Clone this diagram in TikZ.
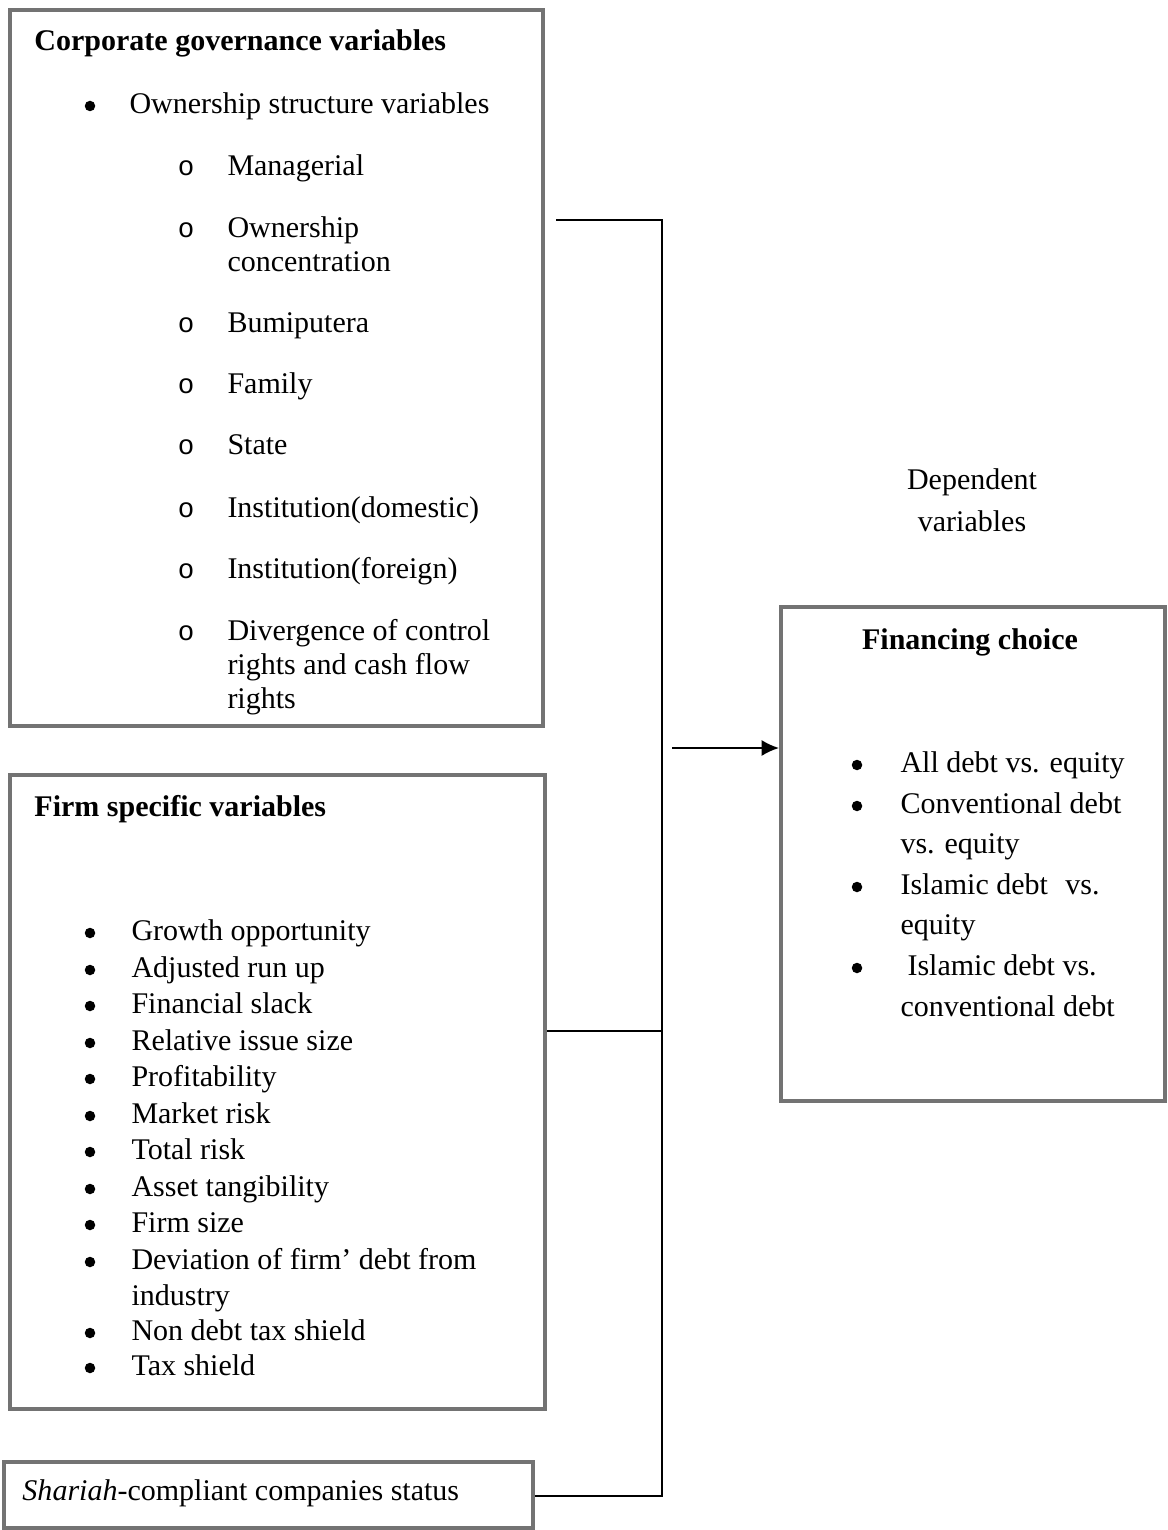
\documentclass[tikz,border=0pt]{standalone}
\usepackage{fontspec}
\setmainfont{Liberation Serif}
\newfontfamily\monofont{Liberation Mono}
\usetikzlibrary{positioning,arrows.meta}
\newcommand{\bodysize}{\fontsize{12}{14.5}\selectfont}
\tikzset{
  box/.style  = {draw=black!55, line width=1.6pt, anchor=north west, inner sep=0pt},
  head/.style = {font=\bodysize\bfseries, anchor=base west, inner sep=0pt},
  txt/.style  = {font=\bodysize, anchor=base west, inner sep=0pt},
  bul/.style  = {circle, fill=black, inner sep=0pt, minimum size=4.2pt},
  ring/.style = {anchor=base, inner sep=0pt, font=\fontsize{11}{11}\selectfont\monofont},
  tedge/.style = {draw, line width=0.8pt},
}

\begin{document}
\begin{tikzpicture}[x=0.4pt,y=-0.4pt]
\useasboundingbox (0,0) rectangle (1167,1530);

% boxes =============================
\node[box, minimum width=213.2pt, minimum height=286.4pt] (cg) at (8,8) {};
\node[box, minimum width=214pt, minimum height=253.6pt] (fs) at (8,773) {};
\node[box, minimum width=211.6pt, minimum height=26.4pt] (sc) at (2,1460) {};
\node[box, minimum width=153.6pt, minimum height=197.6pt] (fc) at (779,605) {};

% corporate governance variables
\node[head] (cghead) at (34,51) {Corporate governance variables};
\node[bul] (cgb) at (90,106) {};
\node[txt] (own) at (129,114) {Ownership structure variables};
\foreach \yy/\tx [count=\i] in {176/Managerial, 238/Ownership, 333/Bumiputera,
    394/Family, 455/State, 517/Institution(domestic), 578/Institution(foreign),
    640/Divergence of control}{
  \node[ring] (o\i) at (186,\yy) {o};
  \node[txt] (s\i) at (227,\yy) {\tx};
}
\node[txt] (s2b) at (227,272) {concentration};
\node[txt] (s8b) at (227,674) {rights and cash flow};
\node[txt] (s8c) at (227,708) {rights};

% firm specific variables
\node[head] (fshead) at (34,816) {Firm specific variables};
\foreach \yy/\tx [count=\i] in {940/Growth opportunity, 977/Adjusted run up,
    1013/Financial slack, 1050/Relative issue size, 1086/Profitability,
    1123/Market risk, 1159/Total risk, 1196/Asset tangibility, 1232/Firm size,
    1269/Deviation of firm’ debt from, 1340/Non debt tax shield, 1375/Tax shield}{
  \node[bul] (fb\i) at (90,\yy-7) {};
  \node[txt] (f\i) at (131,\yy) {\tx};
}
\node[txt] (f10b) at (131,1305) {industry};

% shariah status
\node[txt] (sctxt) at (22,1500) {\textit{Shariah}-compliant companies status};

% dependent variables
\node[txt, anchor=base] (dep1) at (972,490) {Dependent};
\node[txt, anchor=base] (dep2) at (972,531) {variables};
\node[head, anchor=base] (fchead) at (970,649) {Financing choice};
\foreach \yy/\tx [count=\i] in {772/All debt vs. equity, 813/Conventional debt,
    894/Islamic debt\hspace{4pt} vs.}{
  \node[bul] (cb\i) at (857,\yy-7) {};
  \node[txt] (c\i) at (900,\yy) {\tx};
}
\node[bul] (cb4) at (857,968) {};
\node[txt] (c4) at (907,975) {Islamic debt vs.};
\node[txt] (c2b) at (900,853) {vs. equity};
\node[txt] (c3b) at (900,934) {equity};
\node[txt] (c4b) at (900,1016) {conventional debt};

% edges
\coordinate (cgout) at (556,220);
\coordinate (jtop) at (662,220);
\coordinate (jmid) at (662,1031);
\coordinate (jbot) at (662,1496);
\coordinate (astart) at (672,748);
\path[tedge] (cgout) -- (jtop) -- (jbot) -- (sc.east |- jbot);
\path[tedge] (fs.east |- jmid) -- (jmid);
\path[tedge, -{Latex[length=7pt,width=6.5pt]}] (astart) -- (fc.west |- astart);

\end{tikzpicture}
\end{document}
